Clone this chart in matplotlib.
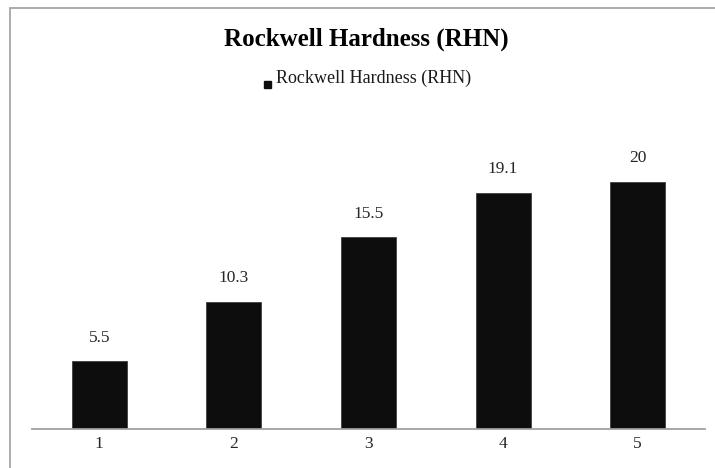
import matplotlib

matplotlib.use("Agg")
import matplotlib.pyplot as plt
from matplotlib.patches import Rectangle

samples = ["1", "2", "3", "4", "5"]
hardness = [5.5, 10.3, 15.5, 19.1, 20]
value_labels = ["5.5", "10.3", "15.5", "19.1", "20"]

plt.rcParams["font.family"] = ["Liberation Serif", "DejaVu Serif"]

W, H = 715, 468
fig = plt.figure(figsize=(W / 100, H / 100), dpi=100)

# chart frame (runs off the right and bottom edges)
fig.patches.append(Rectangle((10 / W, -0.05), 1.1, 1 - 8 / H + 0.05,
                             transform=fig.transFigure, fill=False,
                             edgecolor="#a6a6a6", lw=1.3))

ax = fig.add_axes([32 / W, 1 - 429 / H, (705 - 32) / W, (429 - 120) / H])
x = range(len(samples))
ax.bar(x, hardness, width=0.41, color="#0d0d0d", edgecolor="#404040", lw=0.6)
for xi, v, lab in zip(x, hardness, value_labels):
    ax.text(xi, v + 1.9, lab, ha="center", va="center", fontsize=12.5, color="#262626")

ax.set_xlim(-0.5, len(samples) - 0.5)
ax.set_ylim(0, 25)
ax.set_xticks(list(x))
ax.set_xticklabels(samples, fontsize=12.5, color="#262626")
ax.tick_params(axis="x", length=0, pad=5)
ax.set_yticks([])
for s in ["left", "right", "top"]:
    ax.spines[s].set_visible(False)
ax.spines["bottom"].set_color("#a0a0a0")
ax.spines["bottom"].set_linewidth(1.3)

fig.text(366 / W, 1 - 39 / H, "Rockwell Hardness (RHN)", ha="center", va="center",
         fontsize=18, fontweight="bold")
fig.text(276 / W, 1 - 78 / H, "Rockwell Hardness (RHN)", ha="left", va="center",
         fontsize=13, color="#1a1a1a")
fig.patches.append(Rectangle((264 / W, 1 - 88 / H), 7 / W, 7 / H,
                             transform=fig.transFigure, color="#0d0d0d"))

fig.savefig("out.png", dpi=100)
